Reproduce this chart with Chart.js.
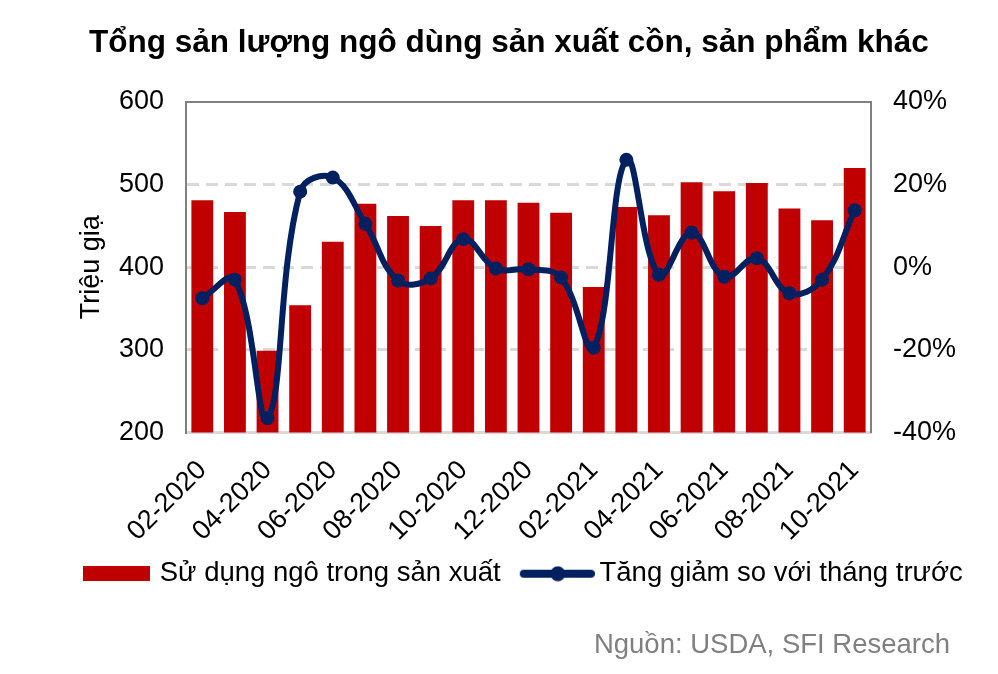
<!DOCTYPE html>
<html lang="vi">
<head>
<meta charset="UTF-8">
<title>Tổng sản lượng ngô dùng sản xuất cồn, sản phẩm khác</title>
<script src="https://cdn.jsdelivr.net/npm/chart.js"></script>
<style>
  body { margin: 0; background: #fff; }
  #wrap { width: 998px; height: 674px; }
</style>
</head>
<body>
<div id="wrap"><canvas id="chart"></canvas></div>
<script>
const months = ["02-2020", "03-2020", "04-2020", "05-2020", "06-2020", "07-2020", "08-2020",
                "09-2020", "10-2020", "11-2020", "12-2020", "01-2021", "02-2021", "03-2021",
                "04-2021", "05-2021", "06-2021", "07-2021", "08-2021", "09-2021", "10-2021"];
// Triệu giạ
const usage = [481, 467, 299, 354, 431, 477, 462, 450, 481, 481, 478, 466, 376, 473,
               463, 503, 492, 502, 471, 457, 520];
// % so với tháng trước
const change = [-7.5, -3.0, -36.5, 18.3, 21.7, 10.5, -3.2, -2.7, 6.8, -0.3, -0.5, -2.5,
                -19.5, 26.0, -1.8, 8.4, -2.3, 2.2, -6.3, -3.0, 13.8];
const leftTicks = [200, 300, 400, 500, 600];
const rightTicks = [-40, -20, 0, 20, 40];
const source = 'Nguồn: USDA, SFI Research';

const RED = '#C00000';
const NAVY = '#002060';
const FONT = "'Liberation Sans', Arial, sans-serif";

// legend symbols (drawn as point-style images)
function barSymbol() {
  const c = document.createElement('canvas');
  c.width = 77; c.height = 15;
  const g = c.getContext('2d');
  g.fillStyle = RED;
  g.fillRect(10, 0, 67, 15);
  return c;
}
function lineSymbol() {
  const c = document.createElement('canvas');
  c.width = 87; c.height = 16;
  const g = c.getContext('2d');
  g.strokeStyle = NAVY; g.lineWidth = 8; g.lineCap = 'round';
  g.beginPath(); g.moveTo(16, 8); g.lineTo(83, 8); g.stroke();
  g.fillStyle = NAVY;
  g.beginPath(); g.arc(50, 8, 7.5, 0, Math.PI * 2); g.fill();
  return c;
}
const symbols = [barSymbol(), lineSymbol()];

// nudge the legend row to the right, and write the source note
const extras = {
  id: 'extras',
  afterLayout(chart) {
    const lg = chart.legend;
    if (lg) { lg.left += 21; lg.right += 21; }
  },
  afterDraw(chart) {
    const ctx = chart.ctx;
    ctx.save();
    ctx.font = "27.5px " + FONT;
    ctx.fillStyle = '#808080';
    ctx.textAlign = 'right';
    ctx.textBaseline = 'middle';
    ctx.fillText(source, 950, 645);
    ctx.restore();
  }
};

new Chart(document.getElementById('chart'), {
  data: {
    labels: months,
    datasets: [
      {
        type: 'bar',
        label: 'Sử dụng ngô trong sản xuất',
        data: usage,
        backgroundColor: RED,
        yAxisID: 'y',
        categoryPercentage: 1,
        barPercentage: 0.67,
        order: 2
      },
      {
        type: 'line',
        label: 'Tăng giảm so với tháng trước',
        data: change,
        borderColor: NAVY,
        backgroundColor: NAVY,
        borderWidth: 6,
        pointRadius: 7,
        pointBackgroundColor: NAVY,
        pointBorderWidth: 0,
        tension: 0.4,
        yAxisID: 'y1',
        order: 1
      }
    ]
  },
  plugins: [extras],
  options: {
    responsive: true,
    maintainAspectRatio: false,
    animation: false,
    layout: { padding: { top: 10, left: 40, right: 20, bottom: 76.5 } },
    plugins: {
      title: {
        display: true,
        text: 'Tổng sản lượng ngô dùng sản xuất cồn, sản phẩm khác',
        color: '#000',
        font: { family: FONT, size: 31.5, weight: 'bold' },
        padding: { top: 14, bottom: 40.2 }
      },
      legend: {
        position: 'bottom',
        align: 'start',
        labels: {
          usePointStyle: true,
          pointStyleWidth: 69,
          color: '#000',
          font: { family: FONT, size: 27.5 },
          padding: 16,
          generateLabels: chart => chart.data.datasets.map((ds, i) => ({
            text: ds.label,
            pointStyle: symbols[i],
            fontColor: '#000',
            lineWidth: 0,
            datasetIndex: i
          }))
        }
      },
      tooltip: { enabled: false }
    },
    scales: {
      x: {
        grid: { display: false },
        border: { color: '#D9D9D9', width: 3 },
        afterFit: s => { s.height = 111.5; },
        ticks: {
          autoSkip: false,
          maxRotation: 45,
          minRotation: 45,
          padding: 14,
          color: '#000',
          font: { family: FONT, size: 27 },
          callback: function (v, i) { return i % 2 === 0 ? this.getLabelForValue(v) : ''; }
        }
      },
      xTop: {
        type: 'category',
        position: 'top',
        grid: { display: false },
        border: { color: '#808080', width: 2 },
        ticks: { display: false },
        afterFit: s => { s.height = 0; }
      },
      y: {
        position: 'left',
        min: 200,
        max: 600,
        afterBuildTicks: s => { s.ticks = leftTicks.map(v => ({ value: v })); },
        afterFit: s => { s.width = 146; },
        grid: {
          color: c => (c.tick && [300, 400, 500].includes(c.tick.value)) ? '#D9D9D9' : 'rgba(0,0,0,0)',
          lineWidth: 3,
          drawTicks: false
        },
        border: { color: '#808080', width: 2, dash: [12, 7] },
        ticks: {
          padding: 22,
          color: '#000',
          font: { family: FONT, size: 27 }
        },
        title: {
          display: true,
          text: 'Triệu giạ',
          color: '#000',
          font: { family: FONT, size: 27 },
          padding: { top: 35.8, bottom: 0 }
        }
      },
      y1: {
        position: 'right',
        min: -40,
        max: 40,
        afterBuildTicks: s => { s.ticks = rightTicks.map(v => ({ value: v })); },
        afterFit: s => { s.width = 107; },
        grid: { drawOnChartArea: false, drawTicks: false },
        border: { color: '#808080', width: 2 },
        ticks: {
          padding: 22,
          color: '#000',
          font: { family: FONT, size: 27 },
          callback: v => v + '%'
        }
      }
    }
  }
});
</script>
</body>
</html>
